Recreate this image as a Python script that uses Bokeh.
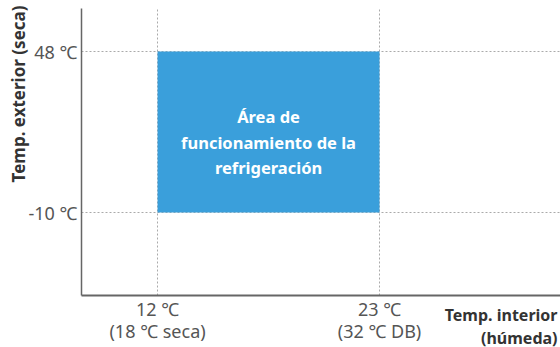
import math
from bokeh.plotting import figure
from bokeh.models import FixedTicker, Title, Range1d
from bokeh.core.properties import value
from bokeh.embed import file_html
from bokeh.resources import INLINE

# data
x_ticks = [12, 23]
x_tick_labels = ["12 ℃", "23 ℃"]
x_tick_labels2 = ["(18 ℃ seca)", "(32 ℃ DB)"]
y_ticks = [-10, 48]
y_tick_labels = ["-10 ℃", "48 ℃"]
area_left = [12]
area_right = [23]
area_bottom = [-10]
area_top = [48]
area_text = "Área de\nfuncionamiento de la\nrefrigeración"
x_title = ["Temp. interior", "(húmeda)"]
y_title = "Temp. exterior (seca)"

FONT = "Noto Sans"
TICK_COLOR = "#555555"
TITLE_COLOR = "#333333"
BLUE = "#3a9fdb"

p = figure(width=560, height=347, output_backend="svg", toolbar_location=None,
           x_range=Range1d(8.23, 31.97), y_range=Range1d(-39.9, 63.5),
           min_border_left=81, min_border_right=0, min_border_top=8,
           min_border_bottom=52)
p.outline_line_color = None

p.quad(left=area_left, right=area_right, bottom=area_bottom, top=area_top,
       fill_color=BLUE, line_color=None)

# axes
xa = p.xaxis[0]
xa.ticker = FixedTicker(ticks=x_ticks)
xa.major_label_overrides = {t: a + "\n" + b for t, a, b in zip(x_ticks, x_tick_labels, x_tick_labels2)}
xa.major_tick_line_color = None
xa.major_tick_out = 0
xa.major_tick_in = 0
xa.minor_tick_line_color = None
xa.axis_line_color = "#666666"
xa.axis_line_width = 2
xa.major_label_text_font = FONT
xa.major_label_text_font_size = "18px"
xa.major_label_text_color = TICK_COLOR
xa.major_label_text_line_height = 0.95
xa.major_label_standoff = 1

ya = p.yaxis[0]
ya.ticker = FixedTicker(ticks=y_ticks)
ya.major_label_overrides = dict(zip(y_ticks, y_tick_labels))
ya.major_tick_line_color = None
ya.major_tick_out = 0
ya.major_tick_in = 0
ya.minor_tick_line_color = None
ya.axis_line_color = "#666666"
ya.axis_line_width = 1.5
ya.major_label_text_font = FONT
ya.major_label_text_font_size = "18px"
ya.major_label_text_color = TICK_COLOR
ya.major_label_standoff = 4

p.xgrid.ticker = FixedTicker(ticks=x_ticks)
p.ygrid.ticker = FixedTicker(ticks=y_ticks)
for g in (p.xgrid, p.ygrid):
    g.grid_line_color = "#aaaaaa"
    g.grid_line_dash = "2 2"
    g.grid_line_width = 1

# text in area
p.text(x=[(area_left[0] + area_right[0]) / 2], y=[(area_bottom[0] + area_top[0]) / 2],
       text=[area_text], text_font=value(FONT), text_font_size="16.5px",
       text_font_style="bold", text_color="white", text_align="center",
       text_baseline="middle", y_offset=10, text_line_height=1.1)

# x title: second line first (stacked nearest to the axis), then first line
for t, s in [(x_title[1], -40), (x_title[0], -86)]:
    p.add_layout(Title(text=t, align="right", vertical_align="top",
                       offset=3, standoff=s, text_font=FONT, text_font_size="16px",
                       text_font_style="bold", text_color=TITLE_COLOR), "below")

# y title
p.add_layout(Title(text=y_title, align="right", vertical_align="bottom",
                   offset=-3, standoff=-8, text_font=FONT, text_font_size="17px",
                   text_font_style="bold", text_color=TITLE_COLOR), "left")

open("out.html", "w").write(file_html(p, INLINE))
